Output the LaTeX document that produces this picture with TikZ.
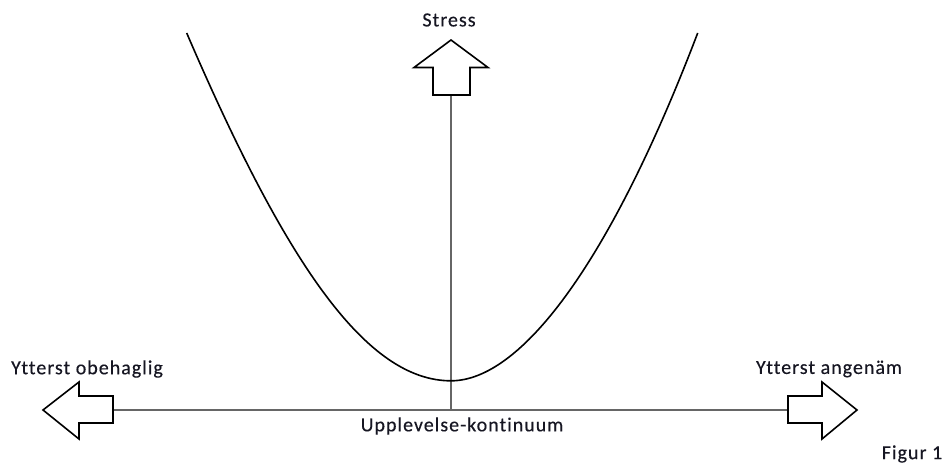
\documentclass[tikz,border=0pt]{standalone}
\usepackage{fontspec}
\setmainfont{Carlito}[FakeBold=0.3,LetterSpace=5,Ligatures=NoCommon]
\definecolor{txt}{RGB}{22,22,34}
\begin{document}
\begin{tikzpicture}[x=1pt,y=-1pt,
  lbl/.style={font=\fontsize{20}{23}\selectfont, text=txt, inner sep=0pt},
  blockarrow/.style={draw=black, line width=1.6pt, fill=white, line join=miter},
  axisline/.style={draw=black!60, line width=1.1pt},
  curveline/.style={draw=black, line width=1.6pt}]
\useasboundingbox (0,0) rectangle (943,463);
% coordinates at arrow bases
\coordinate (topbase) at (451,95);
\coordinate (origin) at (451,410);
\coordinate (leftbase) at (113,410);
\coordinate (rightbase) at (788,410);
\coordinate (ctop) at (186.7,33);
\coordinate (cmin) at (451,380.8);
\coordinate (cend) at (697.7,33);
% axes
\draw[axisline] (topbase) -- (origin);
\draw[axisline] (leftbase) -- (rightbase);
% block arrows
\draw[blockarrow] (433,95) -- (433,67.5) -- (414,67.5) -- (451,40) -- (488,67.5) -- (470,67.5) -- (470,95) -- cycle;
\draw[blockarrow] (113,396) -- (79,396) -- (79,382) -- (43,410) -- (79,439) -- (79,423) -- (113,423) -- cycle;
\draw[blockarrow] (788,396) -- (822,396) -- (822,382) -- (857,410) -- (822,439) -- (822,423) -- (788,423) -- cycle;
% curve
\draw[curveline] (ctop) .. controls (285.6,263) and (366,380.8) .. (cmin)
  .. controls (521,380.8) and (610,263) .. (cend);
% labels
\node[lbl] (stress) at (449,20) {Stress};
\node[lbl] (left) at (87,369) {Ytterst obehaglig};
\node[lbl] (right) at (829,369) {Ytterst angenäm};
\node[lbl] (cont) at (462,426) {Upplevelse-kontinuum};
\node[lbl] (fig) at (912,454) {Figur 1};
\end{tikzpicture}
\end{document}
